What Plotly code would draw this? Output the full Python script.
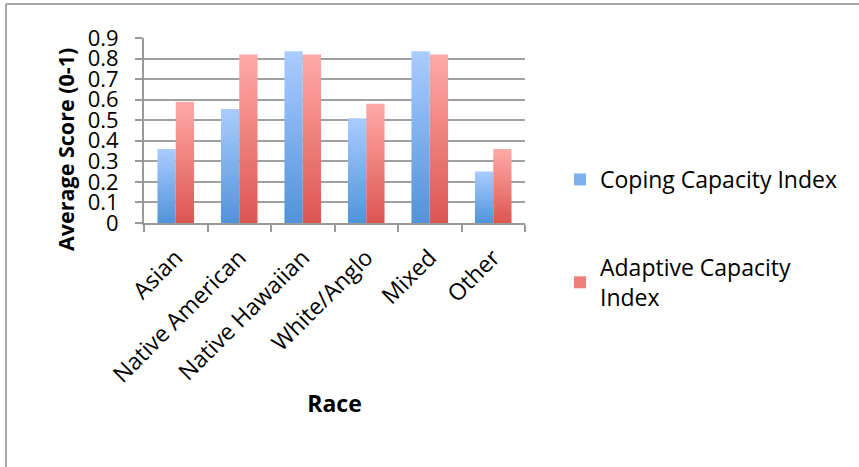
import plotly.graph_objects as go

# Average index scores by race
races = ["Asian", "Native American", "Native Hawaiian", "White/Anglo", "Mixed", "Other"]
coping = [0.36, 0.555, 0.835, 0.51, 0.835, 0.25]
adaptive = [0.59, 0.82, 0.82, 0.58, 0.82, 0.36]

series = [
    ("Coping Capacity Index", coping, "#aaccff", "#5193d9", "#7db1ee", -1),
    ("Adaptive Capacity<br>Index", adaptive, "#ffaaa8", "#dc5650", "#ee7f7a", 0),
]

BAR_W = 0.288
W, H = 859, 467
L, R, T, B = 144, 334, 38, 244
PW, PH = W - L - R, H - T - B

FONT = "Open Sans, Lato, sans-serif"


def px_x(p):
    return (p - L) / PW


def px_y(p):
    return (H - B - p) / PH


fig = go.Figure()

for name, vals, top_c, bot_c, mid_c, side in series:
    # each bar is a filled rectangle with a vertical light-to-dark gradient
    for i, v in enumerate(vals):
        x0 = i + side * BAR_W
        x1 = x0 + BAR_W
        fig.add_trace(go.Scatter(
            x=[x0, x1, x1, x0, x0],
            y=[0, 0, v, v, 0],
            mode="lines",
            line=dict(width=0),
            fill="toself",
            fillgradient=dict(
                type="vertical",
                colorscale=[[0, bot_c], [1, top_c]],
                start=0, stop=v,
            ),
            showlegend=False,
            hoverinfo="skip",
        ))
    # legend entry
    fig.add_trace(go.Bar(
        x=[None], y=[None], name=name, legendgroup=name,
        marker=dict(color=mid_c, line=dict(width=0)),
    ))

fig.update_layout(
    width=W, height=H,
    margin=dict(l=L, r=R, t=T, b=B),
    paper_bgcolor="white",
    plot_bgcolor="white",
    font=dict(family=FONT, size=20, color="#000"),
    showlegend=True,
    xaxis=dict(
        range=[-0.5, 5.5],
        tickvals=list(range(len(races))),
        ticktext=races,
        tickangle=-45,
        ticks="",
        ticklabelstandoff=10,
        showgrid=False,
        zeroline=False,
        showline=True,
        linecolor="#999",
        linewidth=2,
        minor=dict(tick0=0.5, dtick=1, ticks="outside", ticklen=7,
                   tickcolor="#999", tickwidth=2, showgrid=False),
        tickfont=dict(size=23),
        title=dict(text="<b>Race</b>", font=dict(size=23), standoff=7),
    ),
    yaxis=dict(
        range=[0, 0.9],
        dtick=0.1,
        tick0=0,
        showgrid=True,
        gridcolor="#a0a0a0",
        gridwidth=2,
        zeroline=False,
        showline=True,
        linecolor="#999",
        linewidth=2,
        ticks="outside",
        ticklen=7,
        tickcolor="#999",
        tickwidth=2,
        ticklabelstandoff=12,
        tickfont=dict(size=22),
    ),
    annotations=[
        dict(text="<b>Average Score (0-1)</b>", textangle=-90,
             xref="paper", yref="paper", x=px_x(65), y=px_y(150),
             xanchor="center", yanchor="middle", showarrow=False,
             font=dict(size=21.5)),
    ],
    legend=dict(
        x=px_x(560),
        xanchor="left",
        y=px_y(158),
        yanchor="top",
        font=dict(size=23),
        tracegroupgap=55,
        itemwidth=30,
        bgcolor="rgba(0,0,0,0)",
    ),
    shapes=[
        dict(type="line", xref="paper", yref="paper",
             x0=px_x(6), x1=px_x(W + 5), y0=px_y(4), y1=px_y(4),
             line=dict(color="#a8a8a8", width=2)),
        dict(type="line", xref="paper", yref="paper",
             x0=px_x(6), x1=px_x(6), y0=px_y(4), y1=px_y(H + 5),
             line=dict(color="#a8a8a8", width=2)),
    ],
)

fig.write_html("out.html")
